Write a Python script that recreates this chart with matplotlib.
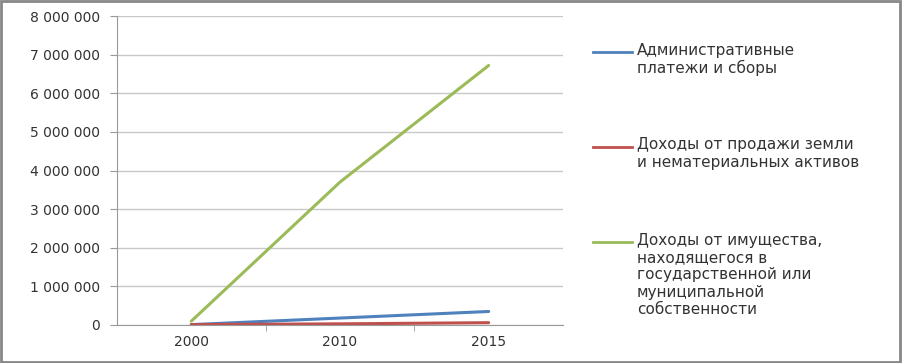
import matplotlib
matplotlib.use("Agg")
import matplotlib.pyplot as plt
from matplotlib.lines import Line2D
from matplotlib.patches import Rectangle
from matplotlib.ticker import FuncFormatter, FixedLocator, NullFormatter

plt.rcParams["font.family"] = ["DejaVu Sans"]

years = ["2000", "2010", "2015"]
admin_fees = [10000, 180000, 350000]
land_sales = [10000, 30000, 60000]
property_income = [100000, 3700000, 6720000]

labels = [
    "Административные\nплатежи и сборы",
    "Доходы от продажи земли\nи нематериальных активов",
    "Доходы от имущества,\nнаходящегося в\nгосударственной или\nмуниципальной\nсобственности",
]
colors = ["#4F81BD", "#C0504D", "#9BBB59"]
series = [admin_fees, land_sales, property_income]

fig = plt.figure(figsize=(9.02, 3.63), dpi=100)
ax = fig.add_axes([117 / 902, 1 - 325 / 363, (563 - 117) / 902, (325 - 16) / 363])

x = range(len(years))
for vals, c in zip(series, colors):
    ax.plot(x, vals, color=c, lw=2.2, solid_capstyle="round")

ax.set_xlim(-0.5, 2.5)
ax.set_ylim(0, 8000000)
ax.set_yticks(range(0, 8000001, 1000000))
ax.yaxis.set_major_formatter(FuncFormatter(lambda v, p: f"{int(v):,}".replace(",", " ")))
ax.set_xticks(list(x))
ax.set_xticklabels(years)
ax.tick_params(axis="x", length=0, labelsize=10, colors="#333333", pad=7)
ax.xaxis.set_minor_locator(FixedLocator([0.5, 1.5]))
ax.xaxis.set_minor_formatter(NullFormatter())
ax.tick_params(axis="x", which="minor", length=4, color="#999999")
ax.tick_params(axis="y", length=5, color="#999999", labelsize=10, labelcolor="#333333", pad=7)
ax.grid(axis="y", color="#C8C8C8", lw=1)
ax.set_axisbelow(True)
for s in ["top", "right"]:
    ax.spines[s].set_visible(False)
ax.spines["left"].set_color("#999999")
ax.spines["bottom"].set_color("#999999")

# legend drawn by hand to the right of the plot
leg_y = [52, 147, 242]
for y, c, lab in zip(leg_y, colors, labels):
    fy = 1 - y / 363
    fig.add_artist(Line2D([593 / 902, 632 / 902], [fy, fy], color=c, lw=2))
    fig.text(637 / 902, fy + 9.5 / 363, lab, fontsize=11, color="#333333",
             va="top", ha="left", linespacing=1.2)

fig.add_artist(Rectangle((0.001, 0.002), 0.997, 0.995, transform=fig.transFigure,
                         fill=False, ec="#888888", lw=2))

fig.savefig("out.png", dpi=100)
